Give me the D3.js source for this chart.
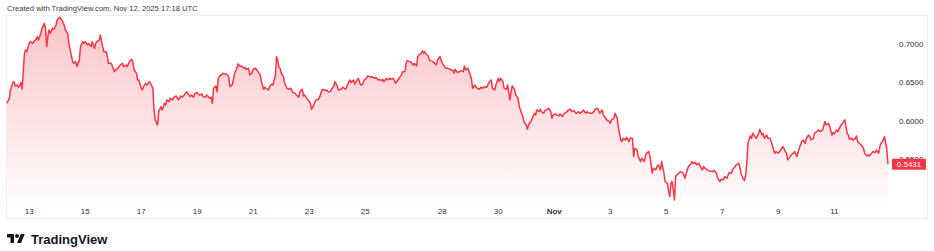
<!DOCTYPE html>
<html>
<head>
<meta charset="utf-8">
<script src="https://cdn.jsdelivr.net/npm/d3@7"></script>
<style>
  html, body { margin: 0; padding: 0; background: #fff; }
  svg { display: block; font-family: "Liberation Sans", Arial, sans-serif; }
</style>
</head>
<body>
<div id="chart"></div>
<script>
// hourly bars, index 0 = Oct 12 ~05:00 UTC
const priceTicks = [0.55, 0.60, 0.65, 0.70];
const tickLabels = ['13', '15', '17', '19', '21', '23', '25', '28', '30', 'Nov', '3', '5', '7', '9', '11'];
const tickBars = [19, 67, 115, 163, 211, 259, 307, 373, 421, 469, 517, 565, 613, 661, 709];
const lastPrice = 0.5431;
const headerText = 'Created with TradingView.com, Nov 12, 2025 17:18 UTC';

// [bar, close]
const points = [
  [0,.6226],[2,.6291],[3,.6400],[5,.6496],[6,.6509],[7,.6452],[9,.6465],[10,.6435],[12,.6496],[13,.6409],
  [14,.6661],[15,.6879],[16,.6922],[17,.6900],[19,.7009],[20,.7031],[22,.7009],[23,.7031],[25,.7061],[26,.7096],
  [27,.7052],[29,.7139],[30,.7205],[32,.7270],[33,.7205],[34,.6966],[35,.7096],[36,.7183],[37,.7139],[39,.7205],
  [40,.7192],[42,.7248],[43,.7314],[45,.7348],[46,.7335],[47,.7314],[49,.7248],[50,.7183],[52,.7139],[53,.7009],
  [55,.6857],[56,.6792],[57,.6748],[59,.6770],[60,.6705],[62,.6792],[63,.6966],[65,.7031],[66,.7009],[67,.7031],
  [69,.6987],[70,.7009],[72,.6966],[73,.7031],[75,.6944],[76,.7009],[77,.7031],[79,.7052],[80,.7118],[81,.7031],
  [82,.6966],[83,.6900],[85,.6900],[86,.6835],[87,.6748],[89,.6748],[90,.6726],[92,.6639],[93,.6661],[95,.6683],
  [96,.6705],[97,.6726],[99,.6748],[100,.6705],[102,.6726],[103,.6705],[105,.6770],[106,.6792],[107,.6800],[108,.6748],
  [109,.6661],[111,.6617],[112,.6530],[113,.6530],[115,.6422],[116,.6400],[117,.6444],[119,.6487],[120,.6465],[122,.6509],
  [123,.6487],[125,.6422],[126,.6139],[127,.6009],[129,.5943],[130,.6117],[132,.6183],[133,.6139],[135,.6226],[136,.6204],
  [137,.6270],[139,.6248],[140,.6291],[142,.6270],[143,.6304],[145,.6322],[146,.6291],[147,.6270],[149,.6322],[150,.6304],
  [152,.6335],[154,.6378],[155,.6356],[157,.6313],[158,.6335],[160,.6304],[161,.6356],[163,.6365],[164,.6348],[165,.6335],
  [167,.6348],[168,.6313],[170,.6304],[171,.6335],[173,.6304],[174,.6291],[175,.6304],[176,.6226],[177,.6422],[179,.6452],
  [180,.6378],[181,.6552],[183,.6596],[184,.6596],[185,.6618],[187,.6609],[188,.6609],[190,.6574],[191,.6444],[193,.6465],
  [194,.6530],[195,.6618],[197,.6683],[198,.6739],[200,.6705],[201,.6713],[203,.6683],[204,.6696],[205,.6670],[207,.6683],
  [208,.6596],[210,.6626],[211,.6670],[213,.6683],[214,.6661],[215,.6639],[217,.6596],[218,.6509],[220,.6409],[221,.6435],
  [223,.6409],[224,.6400],[225,.6444],[227,.6478],[228,.6465],[230,.6596],[231,.6835],[232,.6792],[233,.6696],[234,.6683],
  [235,.6618],[237,.6574],[238,.6487],[240,.6422],[241,.6409],[243,.6422],[244,.6400],[245,.6365],[247,.6356],[248,.6335],
  [250,.6304],[251,.6378],[253,.6409],[254,.6322],[255,.6335],[257,.6291],[258,.6270],[260,.6226],[261,.6148],[263,.6204],
  [264,.6248],[265,.6270],[267,.6278],[268,.6313],[270,.6400],[271,.6409],[273,.6391],[274,.6400],[275,.6378],[277,.6378],
  [278,.6409],[280,.6444],[281,.6509],[283,.6452],[284,.6400],[285,.6400],[287,.6422],[288,.6435],[290,.6409],[291,.6435],
  [293,.6509],[294,.6530],[295,.6496],[297,.6530],[298,.6478],[300,.6530],[301,.6552],[303,.6465],[305,.6478],[306,.6530],
  [308,.6552],[309,.6583],[311,.6574],[312,.6565],[313,.6574],[315,.6552],[316,.6565],[318,.6530],[319,.6539],[321,.6522],
  [322,.6539],[323,.6509],[325,.6552],[326,.6530],[328,.6552],[329,.6539],[331,.6552],[332,.6522],[333,.6487],[335,.6530],
  [336,.6552],[338,.6596],[339,.6639],[341,.6639],[342,.6748],[343,.6783],[345,.6770],[346,.6770],[348,.6726],[349,.6748],
  [351,.6713],[352,.6835],[353,.6857],[355,.6879],[356,.6913],[357,.6879],[358,.6900],[359,.6870],[361,.6844],[362,.6792],
  [363,.6783],[365,.6770],[366,.6757],[368,.6726],[369,.6792],[371,.6835],[372,.6792],[373,.6748],[375,.6705],[376,.6683],
  [378,.6683],[379,.6670],[381,.6661],[382,.6652],[383,.6618],[384,.6670],[385,.6652],[386,.6626],[388,.6639],[389,.6652],
  [391,.6639],[392,.6713],[393,.6661],[395,.6683],[396,.6639],[398,.6552],[399,.6422],[401,.6465],[402,.6435],[403,.6422],
  [405,.6409],[406,.6435],[408,.6422],[409,.6444],[411,.6435],[412,.6465],[413,.6496],[415,.6530],[416,.6422],[418,.6400],
  [419,.6465],[421,.6552],[422,.6509],[423,.6552],[425,.6509],[426,.6422],[428,.6409],[429,.6465],[431,.6270],[432,.6378],
  [433,.6452],[435,.6400],[436,.6335],[438,.6291],[439,.6183],[441,.6095],[442,.6052],[443,.5987],[445,.5943],[446,.5886],
  [447,.5943],[448,.5974],[449,.5987],[451,.6061],[452,.6095],[453,.6074],[454,.6139],[456,.6117],[457,.6148],[458,.6117],
  [460,.6095],[461,.6130],[463,.6148],[464,.6161],[466,.6117],[467,.6030],[468,.6074],[470,.6087],[471,.6074],[473,.6061],
  [474,.6087],[476,.6052],[477,.6087],[478,.6095],[480,.6117],[481,.6139],[483,.6148],[484,.6117],[486,.6130],[487,.6104],
  [488,.6095],[490,.6117],[491,.6095],[493,.6117],[494,.6139],[496,.6095],[497,.6117],[498,.6104],[500,.6095],[501,.6095],
  [503,.6117],[504,.6148],[506,.6161],[507,.6130],[508,.6095],[510,.6139],[511,.6074],[513,.6030],[514,.6009],[516,.5987],
  [517,.5965],[518,.6009],[520,.6030],[521,.6095],[523,.6030],[524,.5900],[526,.5747],[527,.5726],[528,.5769],[530,.5747],
  [531,.5782],[533,.5726],[534,.5769],[536,.5769],[537,.5530],[538,.5639],[540,.5617],[541,.5530],[543,.5465],[544,.5509],
  [546,.5465],[547,.5530],[548,.5574],[550,.5596],[551,.5530],[553,.5313],[554,.5378],[556,.5356],[557,.5400],[558,.5421],
  [560,.5356],[561,.5465],[563,.5313],[564,.5204],[566,.5182],[567,.5073],[568,.5008],[569,.5182],[570,.5204],[571,.5095],
  [572,.4964],[573,.5269],[575,.5304],[576,.5313],[577,.5334],[579,.5321],[580,.5291],[581,.5247],[583,.5356],[584,.5400],
  [586,.5434],[587,.5465],[588,.5443],[590,.5452],[591,.5421],[593,.5443],[594,.5400],[596,.5356],[597,.5400],[598,.5378],
  [600,.5356],[601,.5347],[604,.5334],[605,.5334],[606,.5347],[608,.5313],[609,.5247],[611,.5204],[612,.5234],[614,.5226],
  [615,.5269],[617,.5247],[618,.5291],[619,.5321],[621,.5313],[622,.5365],[624,.5400],[625,.5421],[627,.5443],[628,.5400],
  [629,.5313],[631,.5234],[632,.5217],[633,.5291],[634,.5443],[635,.5703],[637,.5799],[638,.5769],[639,.5834],[641,.5791],
  [642,.5769],[644,.5825],[645,.5886],[647,.5812],[648,.5834],[649,.5769],[651,.5812],[652,.5769],[654,.5769],[655,.5725],
  [657,.5617],[658,.5574],[659,.5596],[661,.5574],[662,.5596],[664,.5639],[665,.5661],[667,.5596],[668,.5574],[669,.5487],
  [671,.5530],[672,.5552],[674,.5574],[675,.5596],[677,.5530],[678,.5596],[679,.5639],[681,.5725],[682,.5747],[684,.5703],
  [685,.5769],[687,.5812],[688,.5791],[689,.5747],[691,.5769],[692,.5834],[694,.5856],[695,.5878],[697,.5856],[698,.5869],
  [699,.5878],[701,.5987],[702,.5943],[704,.5965],[705,.5921],[707,.5812],[708,.5843],[709,.5825],[711,.5878],[712,.5856],
  [714,.5921],[715,.5943],[717,.5987],[718,.6009],[719,.5921],[720,.5834],[721,.5812],[722,.5756],[724,.5769],[725,.5747],
  [727,.5769],[728,.5799],[729,.5725],[731,.5695],[732,.5682],[734,.5639],[735,.5574],[737,.5539],[738,.5552],[739,.5539],
  [741,.5574],[742,.5596],[744,.5582],[745,.5617],[747,.5574],[748,.5661],[749,.5703],[751,.5747],[752,.5791],[754,.5617],
  [755,.5431]
];

const W = 934, H = 251;
const plot = { left: 6, right: 889, top: 15, bottom: 201 };
const lineColor = '#f23645';

const svg = d3.select('#chart').append('svg')
  .attr('width', W)
  .attr('height', H);

svg.append('rect').attr('width', W).attr('height', H).attr('fill', '#fff');

const xScale = d3.scaleLinear()
  .domain([0, 755])
  .range([7, 888]);
const yScale = d3.scaleLinear()
  .domain([0.4950, 0.7379])
  .range([plot.bottom, plot.top]);

// header
svg.append('text')
  .attr('x', 7)
  .attr('y', 11)
  .style('font-size', '7.6px')
  .style('fill', '#3a3a3a')
  .text(headerText);

// frame
svg.append('rect')
  .attr('x', 6.5)
  .attr('y', 15.5)
  .attr('width', 921)
  .attr('height', 203)
  .attr('fill', 'none')
  .attr('stroke', '#eceef2')
  .attr('stroke-width', 1);

const defs = svg.append('defs');
const grad = defs.append('linearGradient')
  .attr('id', 'areaFill')
  .attr('gradientUnits', 'userSpaceOnUse')
  .attr('x1', 0).attr('y1', plot.top)
  .attr('x2', 0).attr('y2', plot.bottom);
grad.append('stop').attr('offset', '0%').attr('stop-color', lineColor).attr('stop-opacity', 0.3);
grad.append('stop').attr('offset', '100%').attr('stop-color', lineColor).attr('stop-opacity', 0.02);

defs.append('clipPath').attr('id', 'plotClip')
  .append('rect')
  .attr('x', plot.left).attr('y', plot.top)
  .attr('width', plot.right - plot.left).attr('height', plot.bottom - plot.top + 1);

const g = svg.append('g').attr('clip-path', 'url(#plotClip)');

const area = d3.area()
  .x(d => xScale(d[0]))
  .y0(plot.bottom + 1)
  .y1(d => yScale(d[1]));

const line = d3.line()
  .x(d => xScale(d[0]))
  .y(d => yScale(d[1]));

g.append('path')
  .datum(points)
  .attr('d', area)
  .attr('fill', 'url(#areaFill)');

g.append('path')
  .datum(points)
  .attr('d', line)
  .attr('fill', 'none')
  .attr('stroke', lineColor)
  .attr('stroke-width', 1.5)
  .attr('stroke-linejoin', 'round');

// time axis
const timeAxis = svg.append('g');
timeAxis.selectAll('text')
  .data(tickLabels)
  .join('text')
  .attr('x', (d, i) => xScale(tickBars[i]))
  .attr('y', 214)
  .attr('text-anchor', 'middle')
  .style('font-size', '8px')
  .style('font-weight', d => d === 'Nov' ? 'bold' : 'normal')
  .style('fill', '#333')
  .text(d => d);

// price axis
const priceAxis = svg.append('g');
priceAxis.selectAll('text')
  .data(priceTicks)
  .join('text')
  .attr('x', 899)
  .attr('y', d => yScale(d) + 3)
  .style('font-size', '8px')
  .style('fill', '#333')
  .text(d => d.toFixed(4));

// last value tag (sits over the 0.5500 label, as in TradingView)
const tagY = yScale(lastPrice);
svg.append('rect')
  .attr('x', 892)
  .attr('y', tagY - 5.5)
  .attr('width', 34)
  .attr('height', 11)
  .attr('rx', 1)
  .attr('fill', lineColor);
svg.append('text')
  .attr('x', 909)
  .attr('y', tagY + 3)
  .attr('text-anchor', 'middle')
  .style('font-size', '8px')
  .style('fill', '#fff')
  .text(lastPrice.toFixed(4));

// TradingView logo
const logo = svg.append('g').attr('transform', 'translate(7,232) scale(0.5)');
logo.append('path')
  .attr('d', 'M14 22H7V11H0V4h14v18zM28 22h-8l7.5-18h8L28 22z')
  .attr('fill', '#131722');
logo.append('circle')
  .attr('cx', 20).attr('cy', 8).attr('r', 4)
  .attr('fill', '#131722');
svg.append('text')
  .attr('x', 31)
  .attr('y', 243.5)
  .style('font-size', '13px')
  .style('font-weight', 'bold')
  .style('fill', '#131722')
  .text('TradingView');
</script>
</body>
</html>
